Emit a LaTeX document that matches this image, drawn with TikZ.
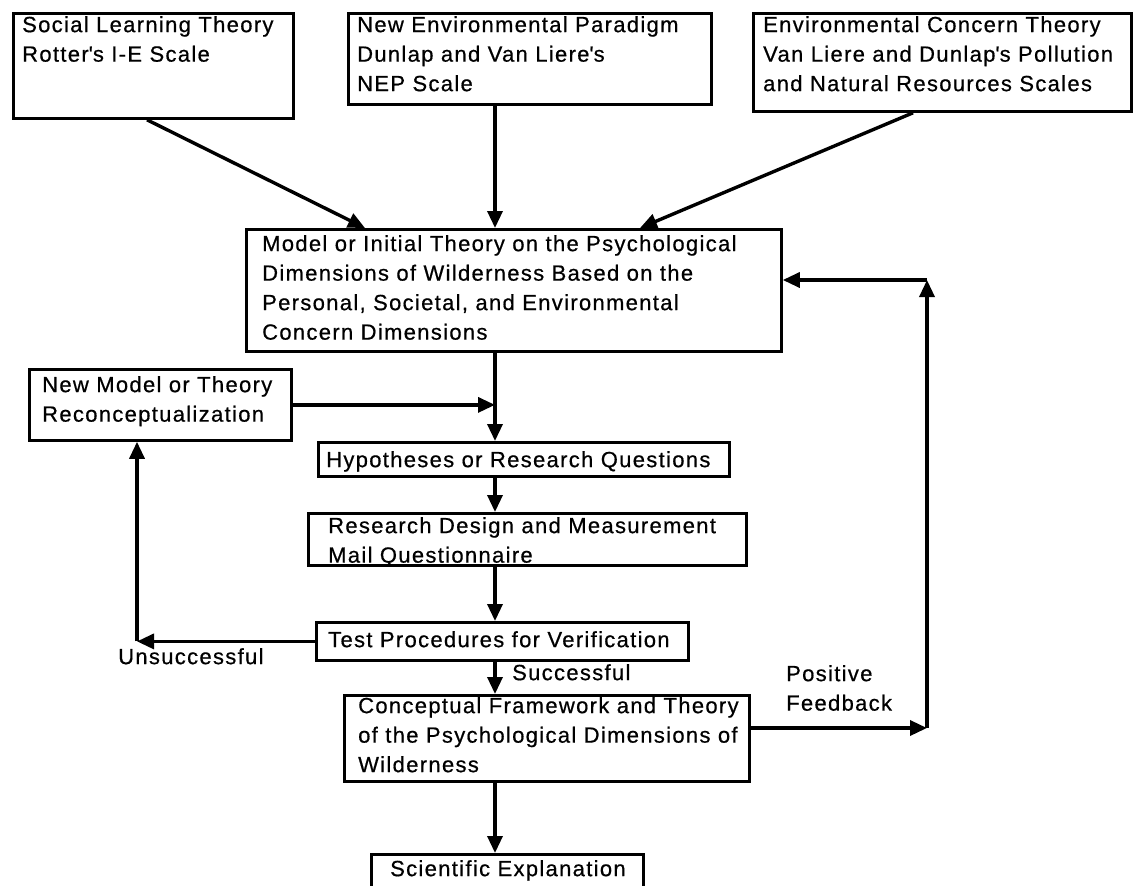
\documentclass[tikz,border=0pt]{standalone}
\usepackage{fontspec}
\setmainfont{Liberation Sans}[LetterSpace=6,FakeBold=0.6]
\usetikzlibrary{arrows.meta,calc}

\begin{document}
\begin{tikzpicture}[x=1pt,y=-1pt,
  box/.style={draw, line width=2.8pt, inner sep=0pt, anchor=north west},
  lbl/.style={anchor=north west, inner sep=0pt, align=left,
              font=\fontsize{22}{29.5}\selectfont},
  conn/.style={line width=3.4pt},
  arr/.style={conn, -{Triangle[length=17pt,width=15pt]}},
]
\useasboundingbox (0,0) rectangle (1133,886);
\clip (0,0) rectangle (1133,886);

% theory sources
\node[box, minimum width=280pt, minimum height=105pt] (b1) at (12,12) {};
\node[box, minimum width=363pt, minimum height=91pt]  (b2) at (347,12) {};
\node[box, minimum width=378pt, minimum height=98pt]  (b3) at (752,12) {};
\node[lbl] (b1t) at (22,16) {Social Learning Theory\\Rotter\textquotesingle s I-E Scale};
\node[lbl] (b2t) at (357,16) {New Environmental Paradigm\\Dunlap and Van Liere\textquotesingle s\\NEP Scale};
\node[lbl] (b3t) at (763,16) {Environmental Concern Theory\\Van Liere and Dunlap\textquotesingle s Pollution\\and Natural Resources Scales};

% research process
\node[box, minimum width=535pt, minimum height=122pt] (model) at (245,228) {};
\node[lbl] (modelt) at (262,235) {Model or Initial Theory on the Psychological\\Dimensions of Wilderness Based on the\\Personal, Societal, and Environmental\\Concern Dimensions};

\node[box, minimum width=262pt, minimum height=71pt] (newm) at (28,368) {};
\node[lbl] (newmt) at (42,376) {New Model or Theory\\Reconceptualization};

\node[box, minimum width=411pt, minimum height=34pt] (hyp) at (317,441) {};
\node[lbl] (hypt) at (326,451) {Hypotheses or Research Questions};

\node[box, minimum width=438pt, minimum height=52pt] (rd) at (307,512) {};
\node[lbl] (rdt) at (328,517) {Research Design and Measurement\\Mail Questionnaire};

\node[box, minimum width=372pt, minimum height=38pt] (test) at (315,621) {};
\node[lbl] (testt) at (328,631) {Test Procedures for Verification};

\node[box, minimum width=405pt, minimum height=86pt] (concept) at (343,694) {};
\node[lbl] (conceptt) at (358,697) {Conceptual Framework and Theory\\of the Psychological Dimensions of\\Wilderness};

\node[box, minimum width=272pt, minimum height=60pt] (sci) at (370,853) {};
\node[lbl] (scit) at (390,860) {Scientific Explanation};

% outcome labels
\node[lbl] (unsucc) at (118,648) {Unsuccessful};
\node[lbl] (succ) at (512,664) {Successful};
\node[lbl] (posfb) at (786,665) {Positive\\Feedback};

% routing coordinates
\coordinate (spine) at (495,0);
\coordinate (lc) at (137,0);
\coordinate (rtop) at (927,280);
\coordinate (ce) at ($(concept.north east)+(0,34)$);

% inputs to the initial model
\draw[arr] ($(b1.south west)+(135,0)$) -- ($(model.north west)+(120,0)$);
\draw[arr] (b2.south -| spine) -- (model.north -| spine);
\draw[arr] ($(b3.south west)+(161,0)$) -- ($(model.north west)+(395,0)$);

% main sequence
\draw[arr] (model.south -| spine) -- (hyp.north -| spine);
\draw[arr] (newm.east) -- (newm.east -| spine);
\draw[arr] (hyp.south -| spine) -- (rd.north -| spine);
\draw[arr] (rd.south -| spine) -- (test.north -| spine);
\draw[arr] (test.south -| spine) -- (concept.north -| spine);
\draw[arr] (concept.south -| spine) -- (sci.north -| spine);

% unsuccessful loop
\draw[arr] (test.west) -- (test.west -| lc);
\draw[arr] (test.west -| lc) -- (newm.south -| lc);

% positive feedback loop
\draw[arr] (ce) -- (ce -| rtop);
\draw[arr] (ce -| rtop) -- (rtop);
\draw[arr] (rtop) -- (rtop -| model.east);
\end{tikzpicture}
\end{document}
